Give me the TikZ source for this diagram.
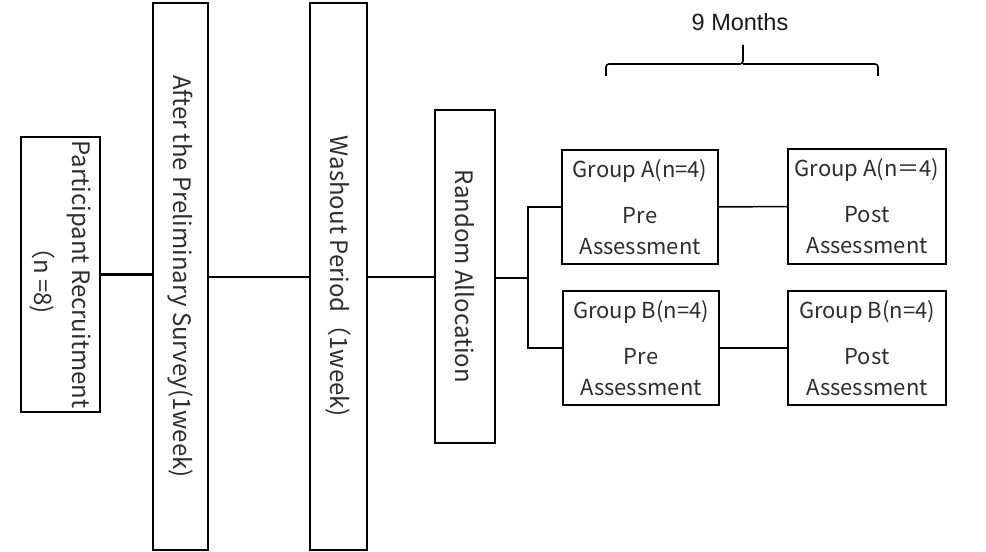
\documentclass[tikz,border=0pt]{standalone}
\usepackage{fontspec}
\setmainfont{Noto Sans CJK JP}
\newfontfamily\arialfont{Liberation Sans}
\begin{document}
\begin{tikzpicture}[x=1bp,y=-1bp,
  box/.style={draw,line width=1.6bp,inner sep=0pt,outer sep=0pt,align=center,text=black!82,font=\fontsize{22bp}{31bp}\selectfont},
  vbox/.style={box,rotate=-90,font=\fontsize{24bp}{38bp}\selectfont},
  conn/.style={line width=1.5bp}]
\useasboundingbox[fill=white] (0,0) rectangle (986,552);
\node[vbox,minimum width=275bp,minimum height=79bp] (part) at (60.5,274.5) {Participant Recruitment\\（n =8)};
\node[vbox,minimum width=547bp,minimum height=55bp] (prelim) at (180.5,276.5) {After the Preliminary Survey(1week)};
\node[vbox,minimum width=547bp,minimum height=57bp] (wash) at (338.5,276.5) {Washout Period（1week)};
\node[vbox,minimum width=333bp,minimum height=60bp] (rand) at (465,276.5) {Random Allocation};
\node[box,minimum width=156bp,minimum height=114bp] (apre) at (640,207) {Group A(n=4)\\[15bp]Pre\\Assessment};
\node[box,minimum width=156bp,minimum height=114bp] (bpre) at (641,348) {Group B(n=4)\\[15bp]Pre\\Assessment};
\node[box,minimum width=158bp,minimum height=115bp] (apost) at (867,206.5) {Group A(n＝4)\\[15bp]Post\\Assessment};
\node[box,minimum width=158bp,minimum height=114bp] (bpost) at (867,348) {Group B(n=4)\\[15bp]Post\\Assessment};
\node[font=\arialfont\fontsize{23.5bp}{27bp}\selectfont,text=black!90] (months) at (740,22) {9 Months};
\draw[line width=2.8bp] (part.north) -- (part.north -| prelim.south);
\draw[conn] (prelim.north |- 0,277) -- (wash.south |- 0,277);
\draw[conn] (wash.north |- 0,277) -- (rand.south |- 0,277);
\coordinate (br) at (528,278);
\draw[conn] (rand.north |- br) -- (br);
\draw[conn] (apre.west) -| (br) |- (bpre.west);
\draw[conn] (apre.east) -- (apost.west);
\draw[conn] (bpre.east) -- (bpost.west);
\draw[line width=1.6bp,rounded corners=3bp] (606,76) -- (606,64) -- (743,64) -- (743,45);
\draw[line width=1.6bp,rounded corners=3bp] (878,76) -- (878,64) -- (743,64);
\end{tikzpicture}
\end{document}
